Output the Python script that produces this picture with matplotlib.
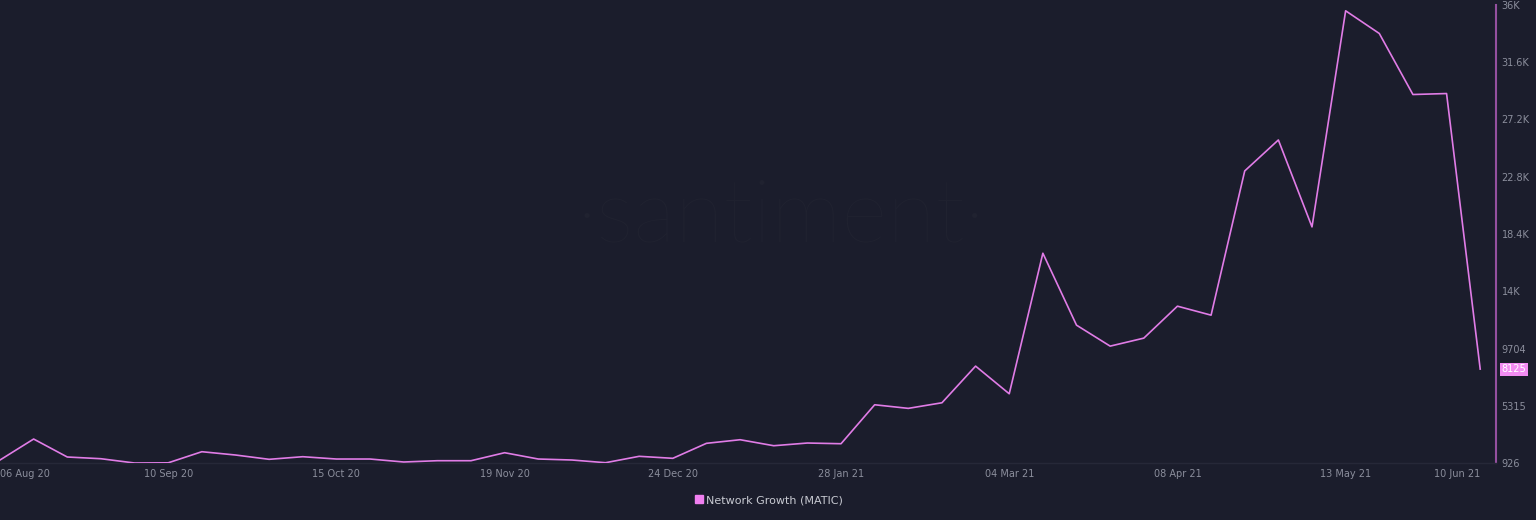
import numpy as np
import pandas as pd
import matplotlib
matplotlib.use("Agg")
import matplotlib.pyplot as plt
from matplotlib.lines import Line2D

# weekly network growth (MATIC)
start_date = "2020-08-06"
growth = [1156, 2764, 1386, 1255, 926, 940, 1792, 1539, 1209, 1409,
          1232, 1232, 1003, 1102, 1102, 1715, 1232, 1156, 949, 1439,
          1286, 2435, 2711, 2251, 2458, 2404, 5391, 5115, 5544, 8354,
          6233, 17008, 11494, 9886, 10499, 12949, 12260, 23316, 25690, 19027,
          35593, 33855, 29175, 29250, 8125]
tick_idx = [0, 5, 10, 15, 20, 25, 30, 35, 40, 44]
y_ticks = [926, 5315, 9704, 14093, 18482, 22871, 27260, 31649, 36038]
y_labels = ["926", "5315", "9704", "14K", "18.4K", "22.8K", "27.2K", "31.6K", "36K"]
series_name = "Network Growth (MATIC)"

bg = "#1b1d2c"
line_col = "#e07ce6"
label_col = "#8b8e9c"

dates = pd.date_range(start_date, periods=len(growth), freq="7D")

fig = plt.figure(figsize=(15.36, 5.2), dpi=100, facecolor=bg)
ax = fig.add_axes([0.0, 0.1096, 0.974, 0.8808])
ax.set_facecolor(bg)

# watermark
ax.text(0.522, 0.535, "·santiment·", transform=ax.transAxes, ha="center", va="center",
        fontsize=64, color="#202230", family=["Lato", "DejaVu Sans"], fontweight="light",
        zorder=0)

ax.plot(dates, growth, color=line_col, lw=1.2, zorder=3)

# a little room between the last point and the right axis
ax.set_xlim(dates[0], dates[-1] + pd.Timedelta(days=3.3))
ax.set_ylim(y_ticks[0], y_ticks[-1])

for s in ["top", "left"]:
    ax.spines[s].set_visible(False)
ax.spines["bottom"].set_color("#262838")
ax.spines["bottom"].set_linewidth(1)
ax.spines["right"].set_color("#94509f")
ax.spines["right"].set_linewidth(1.5)

ax.yaxis.tick_right()
ax.set_yticks(y_ticks)
ax.set_yticklabels(y_labels)
ax.tick_params(axis="y", length=0, pad=4, labelsize=7, labelcolor=label_col)

ax.set_xticks([dates[i] for i in tick_idx])
xl = ax.set_xticklabels([dates[i].strftime("%d %b %y") for i in tick_idx])
xl[0].set_ha("left")
xl[-1].set_ha("right")
ax.tick_params(axis="x", length=0, pad=4, labelsize=7, labelcolor=label_col)

# last value badge on the right axis
ax.annotate(str(growth[-1]), xy=(1.0, growth[-1]), xycoords=("axes fraction", "data"),
            xytext=(4, 0), textcoords="offset points", ha="left", va="center",
            fontsize=7, color="white",
            bbox=dict(boxstyle="square,pad=0.15", fc="#f28cf2", ec="none"),
            annotation_clip=False)

handle = Line2D([], [], marker="s", ls="none", color="#f07ff0", markersize=6)
fig.legend([handle], [series_name], loc="center", bbox_to_anchor=(0.5, 0.038),
           frameon=False, fontsize=8, labelcolor="#c8cad2", handletextpad=0.1,
           handlelength=1)

fig.savefig("out.png", dpi=100, facecolor=bg)
